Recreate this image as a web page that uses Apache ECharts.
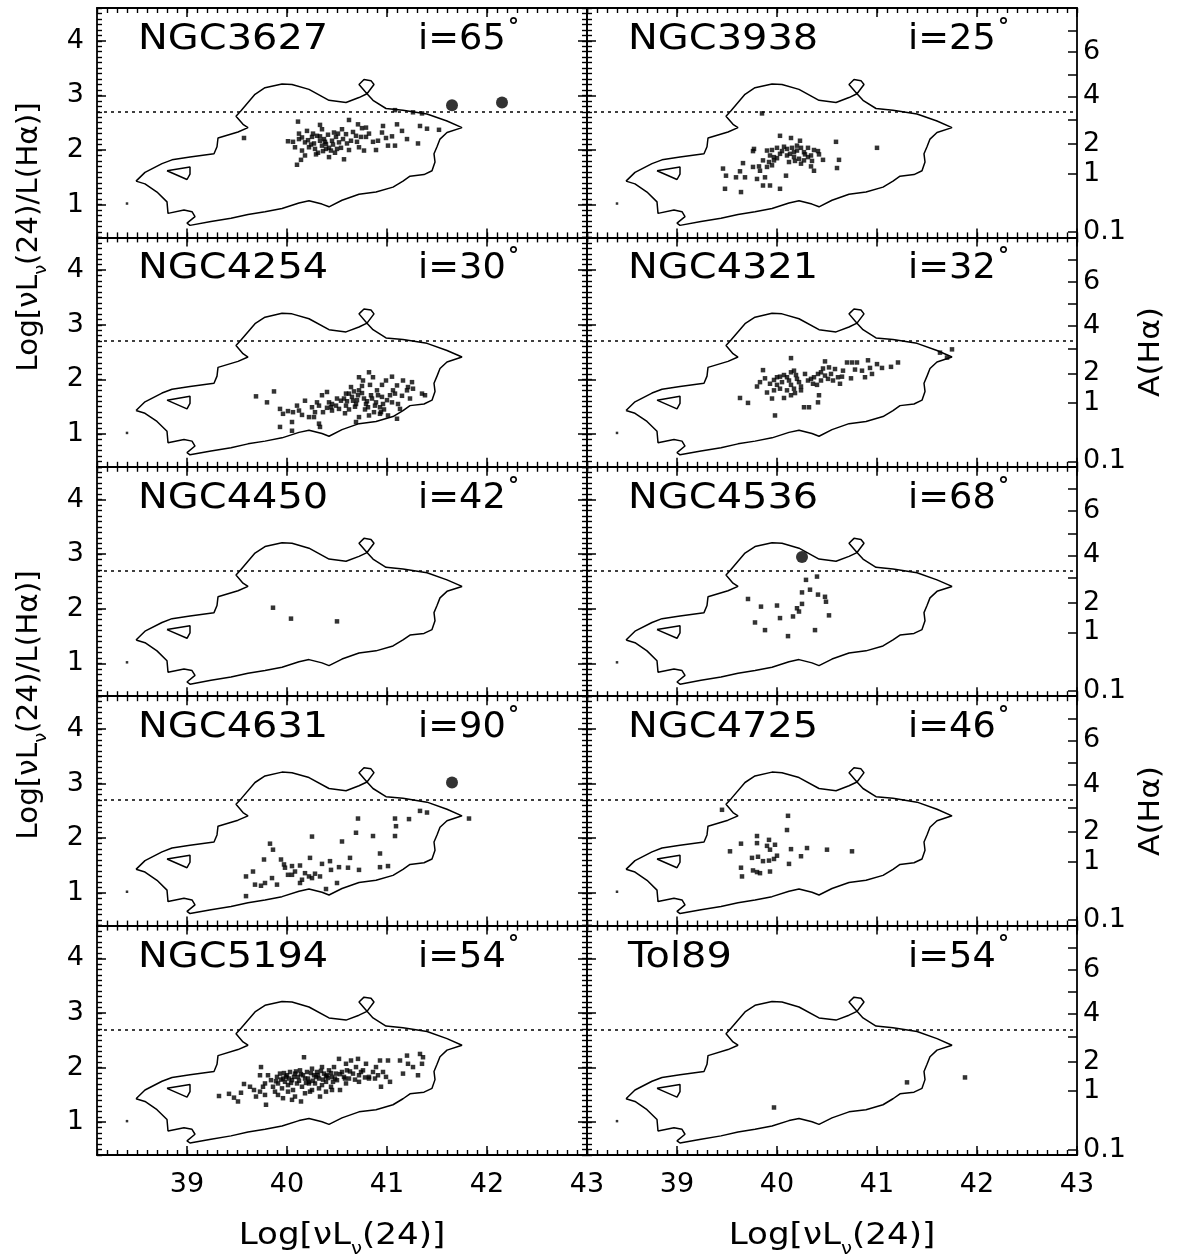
<!DOCTYPE html>
<html><head><meta charset="utf-8">
<script src="https://cdn.jsdelivr.net/npm/echarts@6/dist/echarts.min.js"></script>
<style>html,body{margin:0;padding:0;background:#fff}#c{width:1177px;height:1259px}</style>
</head><body><div id="c"></div>
<script>
// ---------- DATA ----------
const galaxyNames = ['NGC3627','NGC3938','NGC4254','NGC4321','NGC4450','NGC4536','NGC4631','NGC4725','NGC5194','Tol89'];
const inclinations = [65,25,30,32,42,68,90,46,54,54];
const xTickValues = [39,40,41,42,43];
const yTickValues = [1,2,3,4];
const aHaTickLabels = ['0.1','1','2','3','4','5','6','7'];
const aHaTickPos = [0.50,1.57,2.11,2.56,2.98,3.38,3.79,4.19];
const aHaShownLabels = ['0.1','1','2','4','6'];
const dottedLevel = 2.70;
const refPoint = [[38.40,1.02]];
const contourOuter = [[38.49,1.43],[38.58,1.59],[38.75,1.75],[38.85,1.82],[39.03,1.87],[39.27,1.93],[39.30,2.06],[39.31,2.22],[39.51,2.33],[39.61,2.41],[39.56,2.47],[39.49,2.62],[39.54,2.72],[39.68,3.02],[39.78,3.14],[39.95,3.21],[40.05,3.20],[40.22,3.11],[40.42,2.91],[40.59,2.87],[40.72,2.96],[40.80,3.03],[40.72,3.20],[40.77,3.29],[40.84,3.27],[40.87,3.20],[40.80,3.03],[40.86,2.91],[40.99,2.76],[41.16,2.73],[41.40,2.66],[41.60,2.53],[41.75,2.41],[41.60,2.32],[41.53,2.20],[41.50,2.06],[41.47,1.93],[41.48,1.78],[41.45,1.62],[41.37,1.55],[41.23,1.52],[41.16,1.43],[41.06,1.32],[40.89,1.23],[40.72,1.19],[40.55,1.08],[40.42,0.96],[40.35,1.01],[40.22,1.07],[40.12,1.03],[39.95,0.93],[39.78,0.87],[39.61,0.82],[39.44,0.75],[39.24,0.69],[39.03,0.62],[39.00,0.66],[39.08,0.78],[39.05,0.87],[38.97,0.90],[38.81,0.84],[38.80,1.05],[38.70,1.23],[38.58,1.38],[38.49,1.43]];
const contourInner = [[38.80,1.62],[39.03,1.69],[39.03,1.56],[39.00,1.46],[38.80,1.62]];

const pts_NGC3627 = [[40.11,2.52],[40.33,2.46],[40.62,2.55],[40.71,2.47],[40.79,2.41],[40.96,2.44],[41.10,2.47],[41.33,2.44],[41.40,2.39],[41.52,2.37],[41.26,2.69],[41.35,2.67],[41.08,2.73],[39.57,2.22],[40.01,2.16],[40.06,2.15],[40.12,2.20],[40.15,2.23],[40.18,2.14],[40.22,2.05],[40.25,2.24],[40.30,2.26],[40.33,2.17],[40.35,2.08],[40.39,2.11],[40.42,2.04],[40.44,1.99],[40.45,2.17],[40.49,2.24],[40.52,2.14],[40.54,2.04],[40.59,2.29],[40.64,2.17],[40.69,2.26],[40.74,2.24],[40.77,1.99],[40.79,2.24],[40.89,2.00],[40.91,2.17],[40.99,2.22],[41.01,2.08],[41.08,2.08],[41.31,2.12],[40.15,1.99],[40.18,1.90],[40.14,1.82],[40.10,1.73],[40.39,2.02],[40.50,2.02],[40.57,1.83],[40.72,2.05],[40.42,1.87],[40.28,2.02],[40.35,2.38],[40.55,2.38],[40.47,2.32],[40.27,2.12],[40.37,2.20],[40.31,1.95],[40.24,2.10],[40.21,2.18],[40.26,2.30],[40.33,2.25],[40.38,2.15],[40.41,2.28],[40.46,2.10],[40.51,2.30],[40.56,2.20],[40.60,2.12],[40.66,2.33],[40.70,2.15],[40.82,2.30],[40.86,2.15],[41.05,2.25],[41.15,2.35],[40.20,2.35],[40.29,1.92],[40.36,1.98],[40.48,1.95],[40.62,2.00],[40.08,2.05],[40.12,2.30],[41.20,2.20],[40.95,2.32],[40.75,2.40]];
const big_NGC3627 = [[41.65,2.82],[42.15,2.87]];

const pts_NGC3938 = [[39.85,2.67],[40.03,2.26],[40.14,2.22],[40.23,2.17],[40.59,2.15],[41.00,2.04],[39.77,2.02],[39.76,1.98],[39.90,1.99],[39.95,2.00],[40.00,2.04],[40.07,2.06],[40.10,2.02],[40.15,2.04],[40.20,1.99],[40.24,2.04],[40.31,2.04],[40.37,2.00],[40.41,1.98],[39.93,1.90],[39.97,1.87],[40.03,1.93],[40.10,1.90],[40.17,1.87],[40.22,1.84],[40.27,1.81],[40.31,1.87],[40.34,1.90],[40.46,1.82],[40.62,1.82],[39.92,1.78],[39.86,1.81],[40.12,1.78],[40.24,1.75],[40.34,1.70],[40.37,1.62],[40.60,1.67],[39.66,1.76],[39.76,1.69],[39.83,1.62],[39.90,1.69],[39.46,1.66],[39.63,1.61],[39.49,1.53],[39.59,1.50],[39.68,1.50],[39.80,1.47],[39.88,1.50],[40.09,1.53],[39.86,1.35],[39.93,1.35],[40.03,1.29],[39.48,1.29],[39.64,1.23],[40.27,1.96],[40.17,1.96],[39.97,1.81],[40.05,1.98],[40.13,1.93],[40.20,2.08],[40.28,1.92],[40.35,1.80],[40.00,1.85],[39.95,1.72],[39.82,1.70],[40.18,1.80],[40.42,1.92]];
const big_NGC3938 = [];

const pts_NGC4254 = [[39.69,1.69],[39.87,1.78],[39.80,1.58],[39.93,1.46],[39.96,1.37],[40.01,1.42],[40.06,1.40],[40.05,1.22],[40.12,1.43],[40.18,1.61],[40.22,1.31],[40.25,1.49],[40.28,1.40],[40.32,1.52],[40.35,1.71],[40.27,1.31],[40.32,1.19],[40.33,1.13],[40.05,1.06],[39.93,1.13],[40.40,1.77],[40.42,1.58],[40.44,1.49],[40.45,1.43],[40.49,1.52],[40.52,1.46],[40.54,1.61],[40.57,1.65],[40.59,1.52],[40.62,1.74],[40.64,1.86],[40.66,1.61],[40.69,1.55],[40.71,1.71],[40.72,1.80],[40.72,2.04],[40.76,1.98],[40.77,1.65],[40.79,1.55],[40.81,1.49],[40.82,2.13],[40.84,1.71],[40.86,2.04],[40.88,1.52],[40.89,1.58],[40.91,1.71],[40.93,1.49],[40.94,1.40],[40.96,1.55],[40.99,1.98],[41.01,1.34],[41.03,1.71],[41.06,1.80],[41.08,1.74],[41.10,1.89],[41.11,1.55],[41.13,1.46],[41.16,1.98],[41.20,1.80],[41.21,1.86],[41.25,1.95],[41.26,1.83],[41.35,1.74],[41.38,1.71],[41.10,1.28],[40.93,1.37],[40.82,1.34],[40.72,1.31],[40.69,1.22],[40.59,1.74],[40.60,1.60],[40.65,1.68],[40.70,1.62],[40.75,1.75],[40.80,1.60],[40.85,1.65],[40.90,1.80],[40.95,1.68],[41.00,1.62],[41.05,1.58],[40.62,1.45],[40.68,1.50],[40.78,1.45],[40.87,1.40],[40.97,1.45],[40.50,1.65],[40.45,1.55],[40.40,1.48],[40.36,1.40],[40.58,1.38],[41.15,1.70],[41.23,1.65],[40.83,1.90],[40.75,1.88],[40.95,1.90],[41.05,2.05],[40.67,1.78],[40.30,1.58],[40.15,1.35],[40.10,1.52]];
const big_NGC4254 = [];

const pts_NGC4321 = [[40.14,2.39],[40.48,2.33],[40.75,2.31],[40.91,2.35],[41.05,2.21],[41.14,2.23],[41.21,2.31],[41.75,2.55],[41.63,2.49],[41.70,2.40],[39.86,2.17],[39.83,1.95],[39.80,1.87],[39.93,1.92],[39.97,1.99],[40.00,2.04],[40.03,2.05],[40.07,2.08],[40.10,2.04],[40.14,2.13],[40.17,2.16],[40.19,2.08],[40.20,2.01],[40.14,1.90],[40.10,1.80],[40.03,1.83],[39.97,1.80],[39.95,1.65],[40.07,1.66],[40.14,1.71],[40.17,1.83],[40.24,1.87],[40.31,1.98],[40.34,2.01],[40.37,2.04],[40.41,2.10],[40.44,2.13],[40.48,2.07],[40.51,2.01],[40.54,2.10],[40.58,2.19],[40.61,2.04],[40.63,1.92],[40.66,2.16],[40.70,2.31],[40.80,2.31],[40.85,2.16],[40.88,2.04],[40.93,2.21],[39.63,1.66],[39.71,1.57],[39.98,1.34],[40.27,1.49],[40.32,1.49],[40.41,1.58],[40.42,1.71],[40.24,1.80],[40.44,1.98],[40.05,1.95],[40.12,1.98],[40.22,1.95],[40.28,2.10],[40.36,1.92],[40.46,2.20],[40.56,1.98],[40.65,2.05],[40.78,2.18],[40.95,2.10],[41.00,2.28],[39.90,1.76],[40.00,1.90],[40.18,1.75],[40.52,2.22],[40.74,2.02],[40.40,1.90],[39.88,2.02]];
const big_NGC4321 = [];

const pts_NGC4450 = [[39.86,2.02],[40.04,1.82],[40.50,1.77]];
const big_NGC4450 = [];

const pts_NGC4536 = [[40.29,2.53],[40.40,2.59],[40.25,2.30],[40.33,2.35],[40.41,2.26],[40.48,2.22],[40.49,2.13],[39.71,2.18],[39.84,2.04],[40.00,2.06],[40.20,2.01],[40.25,2.09],[40.22,1.95],[40.16,1.86],[40.03,1.83],[39.78,1.75],[39.88,1.61],[40.11,1.50],[40.38,1.61],[40.52,1.88]];
const big_NGC4536 = [[40.25,2.95]];

const pts_NGC4631 = [[40.71,2.36],[41.08,2.36],[41.22,2.35],[41.33,2.50],[41.40,2.47],[41.82,2.36],[41.09,2.22],[40.69,2.10],[40.86,2.04],[41.08,2.04],[40.25,2.03],[40.55,1.94],[39.83,1.90],[39.86,1.79],[39.77,1.61],[39.94,1.61],[40.23,1.64],[40.63,1.64],[40.93,1.72],[39.97,1.52],[40.05,1.49],[40.13,1.50],[40.08,1.39],[40.01,1.33],[39.98,1.46],[40.18,1.36],[40.22,1.30],[40.15,1.24],[40.13,1.18],[40.25,1.27],[40.28,1.35],[40.35,1.53],[40.33,1.30],[40.43,1.58],[40.44,1.42],[40.52,1.47],[40.61,1.46],[40.72,1.42],[40.93,1.47],[41.01,1.49],[40.50,1.18],[40.39,1.07],[39.59,1.30],[39.66,1.39],[39.68,1.15],[39.74,1.13],[39.78,1.18],[39.85,1.27],[39.90,1.15],[39.59,0.94],[40.05,1.33]];
const big_NGC4631 = [[41.65,3.02]];

const pts_NGC4725 = [[39.45,2.52],[40.11,2.41],[40.10,2.15],[39.80,2.04],[39.64,1.90],[39.92,1.97],[39.80,1.91],[39.90,1.86],[39.98,1.88],[39.93,1.79],[39.53,1.76],[40.14,1.80],[40.30,1.82],[40.50,1.79],[40.75,1.76],[40.24,1.67],[39.75,1.64],[39.81,1.66],[39.86,1.58],[39.92,1.59],[39.97,1.62],[40.00,1.68],[40.12,1.53],[39.64,1.46],[39.76,1.41],[39.80,1.38],[39.83,1.36],[39.93,1.39],[39.65,1.30]];
const big_NGC4725 = [];

const pts_NGC5194 = [[39.32,1.48],[39.42,1.52],[39.47,1.45],[39.51,1.38],[39.54,1.54],[39.57,1.70],[39.63,1.65],[39.67,1.59],[39.69,1.47],[39.73,1.56],[39.76,1.65],[39.78,1.50],[39.79,1.32],[39.74,2.01],[39.81,1.86],[39.84,1.77],[39.86,1.65],[39.88,1.56],[39.90,1.83],[39.91,1.71],[39.93,1.89],[39.95,1.62],[39.96,1.80],[39.98,1.74],[40.00,1.86],[40.01,1.68],[40.03,1.92],[40.05,1.77],[40.06,1.59],[40.08,1.89],[40.10,1.71],[40.11,1.83],[40.13,1.95],[40.14,1.38],[40.15,1.65],[40.17,2.19],[40.18,1.80],[40.20,1.92],[40.22,1.74],[40.23,1.56],[40.25,1.98],[40.27,1.86],[40.28,1.71],[40.30,1.92],[40.32,1.80],[40.33,1.47],[40.35,2.01],[40.37,1.89],[40.39,1.74],[40.40,1.86],[40.42,1.95],[40.44,1.65],[40.45,1.83],[40.47,2.01],[40.49,1.89],[40.50,1.77],[40.52,2.16],[40.53,1.59],[40.55,1.92],[40.57,1.83],[40.59,2.07],[40.60,1.95],[40.62,1.80],[40.64,2.13],[40.66,1.89],[40.69,2.01],[40.71,2.16],[40.72,1.86],[40.76,1.95],[40.79,2.07],[40.82,1.83],[40.86,1.92],[40.89,2.01],[40.91,1.86],[40.93,2.13],[40.94,1.65],[40.96,1.92],[40.99,1.83],[41.01,2.13],[41.03,1.74],[41.13,2.13],[41.16,1.89],[41.20,2.22],[41.21,2.07],[41.26,2.01],[41.31,1.86],[41.33,2.25],[41.36,2.19],[41.35,2.07],[39.91,1.50],[39.96,1.44],[40.01,1.56],[40.08,1.47],[40.18,1.53],[40.25,1.59],[40.32,1.62],[40.39,1.56],[40.45,1.59],[40.05,1.41],[40.22,1.71],[40.35,1.68],[40.59,1.71],[40.72,1.74],[40.82,1.80],[40.88,1.80],[39.78,1.71],[39.73,1.86],[40.02,1.80],[40.07,1.83],[40.12,1.76],[40.16,1.86],[40.21,1.80],[40.26,1.76],[40.31,1.86],[40.36,1.78],[40.41,1.81],[40.46,1.74],[40.04,1.72],[40.09,1.93],[40.14,1.88],[40.19,1.72],[40.24,1.90],[40.29,1.83],[40.34,1.94],[40.39,1.84],[40.44,1.90],[40.48,1.80],[39.99,1.83],[39.94,1.78],[39.89,1.75],[39.97,1.90],[40.53,1.88],[40.58,1.80],[40.63,1.93],[40.68,1.78],[40.74,1.92],[40.78,1.82]];
const big_NGC5194 = [];

const pts_Tol89 = [[39.97,1.27],[41.30,1.73],[41.88,1.82]];
const big_Tol89 = [];

const smallPoints = [pts_NGC3627,pts_NGC3938,pts_NGC4254,pts_NGC4321,pts_NGC4450,pts_NGC4536,pts_NGC4631,pts_NGC4725,pts_NGC5194,pts_Tol89];
const bigPoints = [big_NGC3627,big_NGC3938,big_NGC4254,big_NGC4321,big_NGC4450,big_NGC4536,big_NGC4631,big_NGC4725,big_NGC5194,big_Tol89];

// ---------- LAYOUT ----------
const X_MIN = 38.1, X_MAX = 43, Y_MIN = 0.4, Y_MAX = 4.6;
const colLeft = [97, 587], panelW = 490;
const rowTop0 = 8, panelH = 229.4;
const FONT = 'DejaVu Sans';
const lineCol = '#000';

const grids = [], xAxes = [], yAxes = [], series = [], graphics = [];

function axisBase(extra) {
  return Object.assign({
    type: 'value', splitLine: { show: false },
    axisLine: { show: true, onZero: false, lineStyle: { color: lineCol, width: 1.8 } }
  }, extra);
}
const majorTick = (vals) => ({ show: true, inside: true, length: 9, customValues: vals, lineStyle: { color: lineCol, width: 1.5 } });
const minorTick = { show: true, inside: true, length: 5, lineStyle: { color: lineCol, width: 1.4 } };
const noLine = { show: false, onZero: false };

for (let g = 0; g < 10; g++) {
  const row = Math.floor(g / 2), col = g % 2;
  const top = rowTop0 + row * panelH;
  grids.push({ left: colLeft[col], top: top, width: panelW, height: panelH, containLabel: false });
  const isBottom = row === 4;
  xAxes.push(axisBase({ gridIndex: g, position: 'bottom', min: X_MIN, max: X_MAX,
    axisTick: majorTick(xTickValues),
    axisLabel: { show: isBottom, customValues: xTickValues, margin: 16, fontFamily: FONT, fontSize: 27, color: '#000' } }));
  xAxes.push(axisBase({ gridIndex: g, position: 'bottom', min: X_MIN, max: X_MAX, interval: 0.1,
    axisLine: noLine, axisTick: minorTick, axisLabel: { show: false } }));
  xAxes.push(axisBase({ gridIndex: g, position: 'top', min: X_MIN, max: X_MAX,
    axisTick: majorTick(xTickValues), axisLabel: { show: false } }));
  xAxes.push(axisBase({ gridIndex: g, position: 'top', min: X_MIN, max: X_MAX, interval: 0.1,
    axisLine: noLine, axisTick: minorTick, axisLabel: { show: false } }));
  yAxes.push(axisBase({ gridIndex: g, position: 'left', min: Y_MIN, max: Y_MAX,
    axisTick: majorTick(yTickValues),
    axisLabel: { show: col === 0, customValues: yTickValues, margin: 13, fontFamily: FONT, fontSize: 27, color: '#000' } }));
  yAxes.push(axisBase({ gridIndex: g, position: 'left', min: Y_MIN, max: Y_MAX, interval: 0.1,
    axisLine: noLine, axisTick: minorTick, axisLabel: { show: false } }));
  if (col === 0) {
    yAxes.push(axisBase({ gridIndex: g, position: 'right', min: Y_MIN, max: Y_MAX,
      axisTick: majorTick(yTickValues), axisLabel: { show: false } }));
    yAxes.push(axisBase({ gridIndex: g, position: 'right', min: Y_MIN, max: Y_MAX, interval: 0.1,
      axisLine: noLine, axisTick: minorTick, axisLabel: { show: false } }));
  } else {
    const shownPos = aHaTickPos.filter((p, i) => aHaShownLabels.indexOf(aHaTickLabels[i]) >= 0);
    yAxes.push(axisBase({ gridIndex: g, position: 'right', min: Y_MIN, max: Y_MAX,
      axisTick: majorTick(aHaTickPos),
      axisLabel: { show: true, customValues: shownPos, margin: 6, fontFamily: FONT, fontSize: 27, color: '#000',
        formatter: function (v) {
          let best = 0;
          for (let i = 0; i < aHaTickPos.length; i++) if (Math.abs(aHaTickPos[i] - v) < Math.abs(aHaTickPos[best] - v)) best = i;
          return aHaTickLabels[best];
        } } }));
    yAxes.push(axisBase({ gridIndex: g, position: 'right', min: Y_MIN, max: Y_MAX, show: false }));
  }
  const xi = g * 4, yi = g * 4;
  series.push({ type: 'line', xAxisIndex: xi, yAxisIndex: yi, data: contourOuter, symbol: 'none', silent: true,
    lineStyle: { color: lineCol, width: 1.5 }, animation: false,
    markLine: { silent: true, symbol: 'none', label: { show: false }, animation: false,
      lineStyle: { color: lineCol, width: 1.7, type: [3, 4] }, data: [{ yAxis: dottedLevel }] } });
  series.push({ type: 'line', xAxisIndex: xi, yAxisIndex: yi, data: contourInner, symbol: 'none', silent: true,
    lineStyle: { color: lineCol, width: 1.5 }, animation: false });
  series.push({ type: 'scatter', xAxisIndex: xi, yAxisIndex: yi, data: refPoint, symbol: 'rect', symbolSize: 2.5,
    itemStyle: { color: lineCol }, animation: false, silent: true });
  series.push({ type: 'scatter', xAxisIndex: xi, yAxisIndex: yi, data: smallPoints[g], symbol: 'rect', symbolSize: 4.5,
    itemStyle: { color: lineCol }, animation: false, silent: true });
  series.push({ type: 'scatter', xAxisIndex: xi, yAxisIndex: yi, data: bigPoints[g], symbol: 'circle', symbolSize: 12,
    itemStyle: { color: lineCol }, animation: false, silent: true });

  // panel texts
  graphics.push({ type: 'text', x: colLeft[col] + 41, y: top + 32, scaleX: 1.14, silent: true,
    style: { text: galaxyNames[g], font: '35px "' + FONT + '"', fill: '#000', textVerticalAlign: 'middle', textAlign: 'left' } });
  graphics.push({ type: 'text', x: colLeft[col] + 321, y: top + 32, scaleX: 1.05, silent: true,
    style: { text: 'i=' + inclinations[g], font: '35px "' + FONT + '"', fill: '#000', textVerticalAlign: 'middle', textAlign: 'left' } });
  graphics.push({ type: 'text', x: colLeft[col] + 411, y: top + 19, silent: true,
    style: { text: '°', font: 'bold 22px "' + FONT + '"', fill: '#000', textVerticalAlign: 'middle', textAlign: 'left' } });
}

// axis titles
const yTitle = '{n|Log[νL}{s|ν}{n|(24)/L(Hα)]}';
const titleRich = { n: { fontFamily: FONT, fontSize: 28, fill: '#000', verticalAlign: 'bottom' },
                    s: { fontFamily: FONT, fontSize: 17, fill: '#000', verticalAlign: 'bottom', padding: [0, 0, -6, 0] } };
[237, 705].forEach(function (cy) {
  graphics.push({ type: 'text', x: 30, y: cy, rotation: Math.PI / 2, scaleX: 1.05, silent: true,
    style: { text: yTitle, rich: titleRich, textAlign: 'center', textVerticalAlign: 'middle' } });
});
[352, 811].forEach(function (cy) {
  graphics.push({ type: 'text', x: 1151, y: cy, rotation: Math.PI / 2, scaleX: 1.08, silent: true,
    style: { text: 'A(Hα)', font: '29px "' + FONT + '"', fill: '#000', textAlign: 'center', textVerticalAlign: 'middle' } });
});
const xTitle = '{n|Log[νL}{s|ν}{n|(24)]}';
const xTitleRich = { n: { fontFamily: FONT, fontSize: 31, fill: '#000', verticalAlign: 'bottom' },
                     s: { fontFamily: FONT, fontSize: 18, fill: '#000', verticalAlign: 'bottom', padding: [0, 0, -7, 0] } };
[342, 832].forEach(function (cx) {
  graphics.push({ type: 'text', x: cx, y: 1236, scaleX: 1.1, silent: true,
    style: { text: xTitle, rich: xTitleRich, textAlign: 'center', textVerticalAlign: 'middle' } });
});

const chart = echarts.init(document.getElementById('c'), null, { renderer: 'canvas' });
chart.setOption({
  backgroundColor: '#fff', animation: false,
  grid: grids, xAxis: xAxes, yAxis: yAxes, series: series, graphic: graphics
});
</script></body></html>
